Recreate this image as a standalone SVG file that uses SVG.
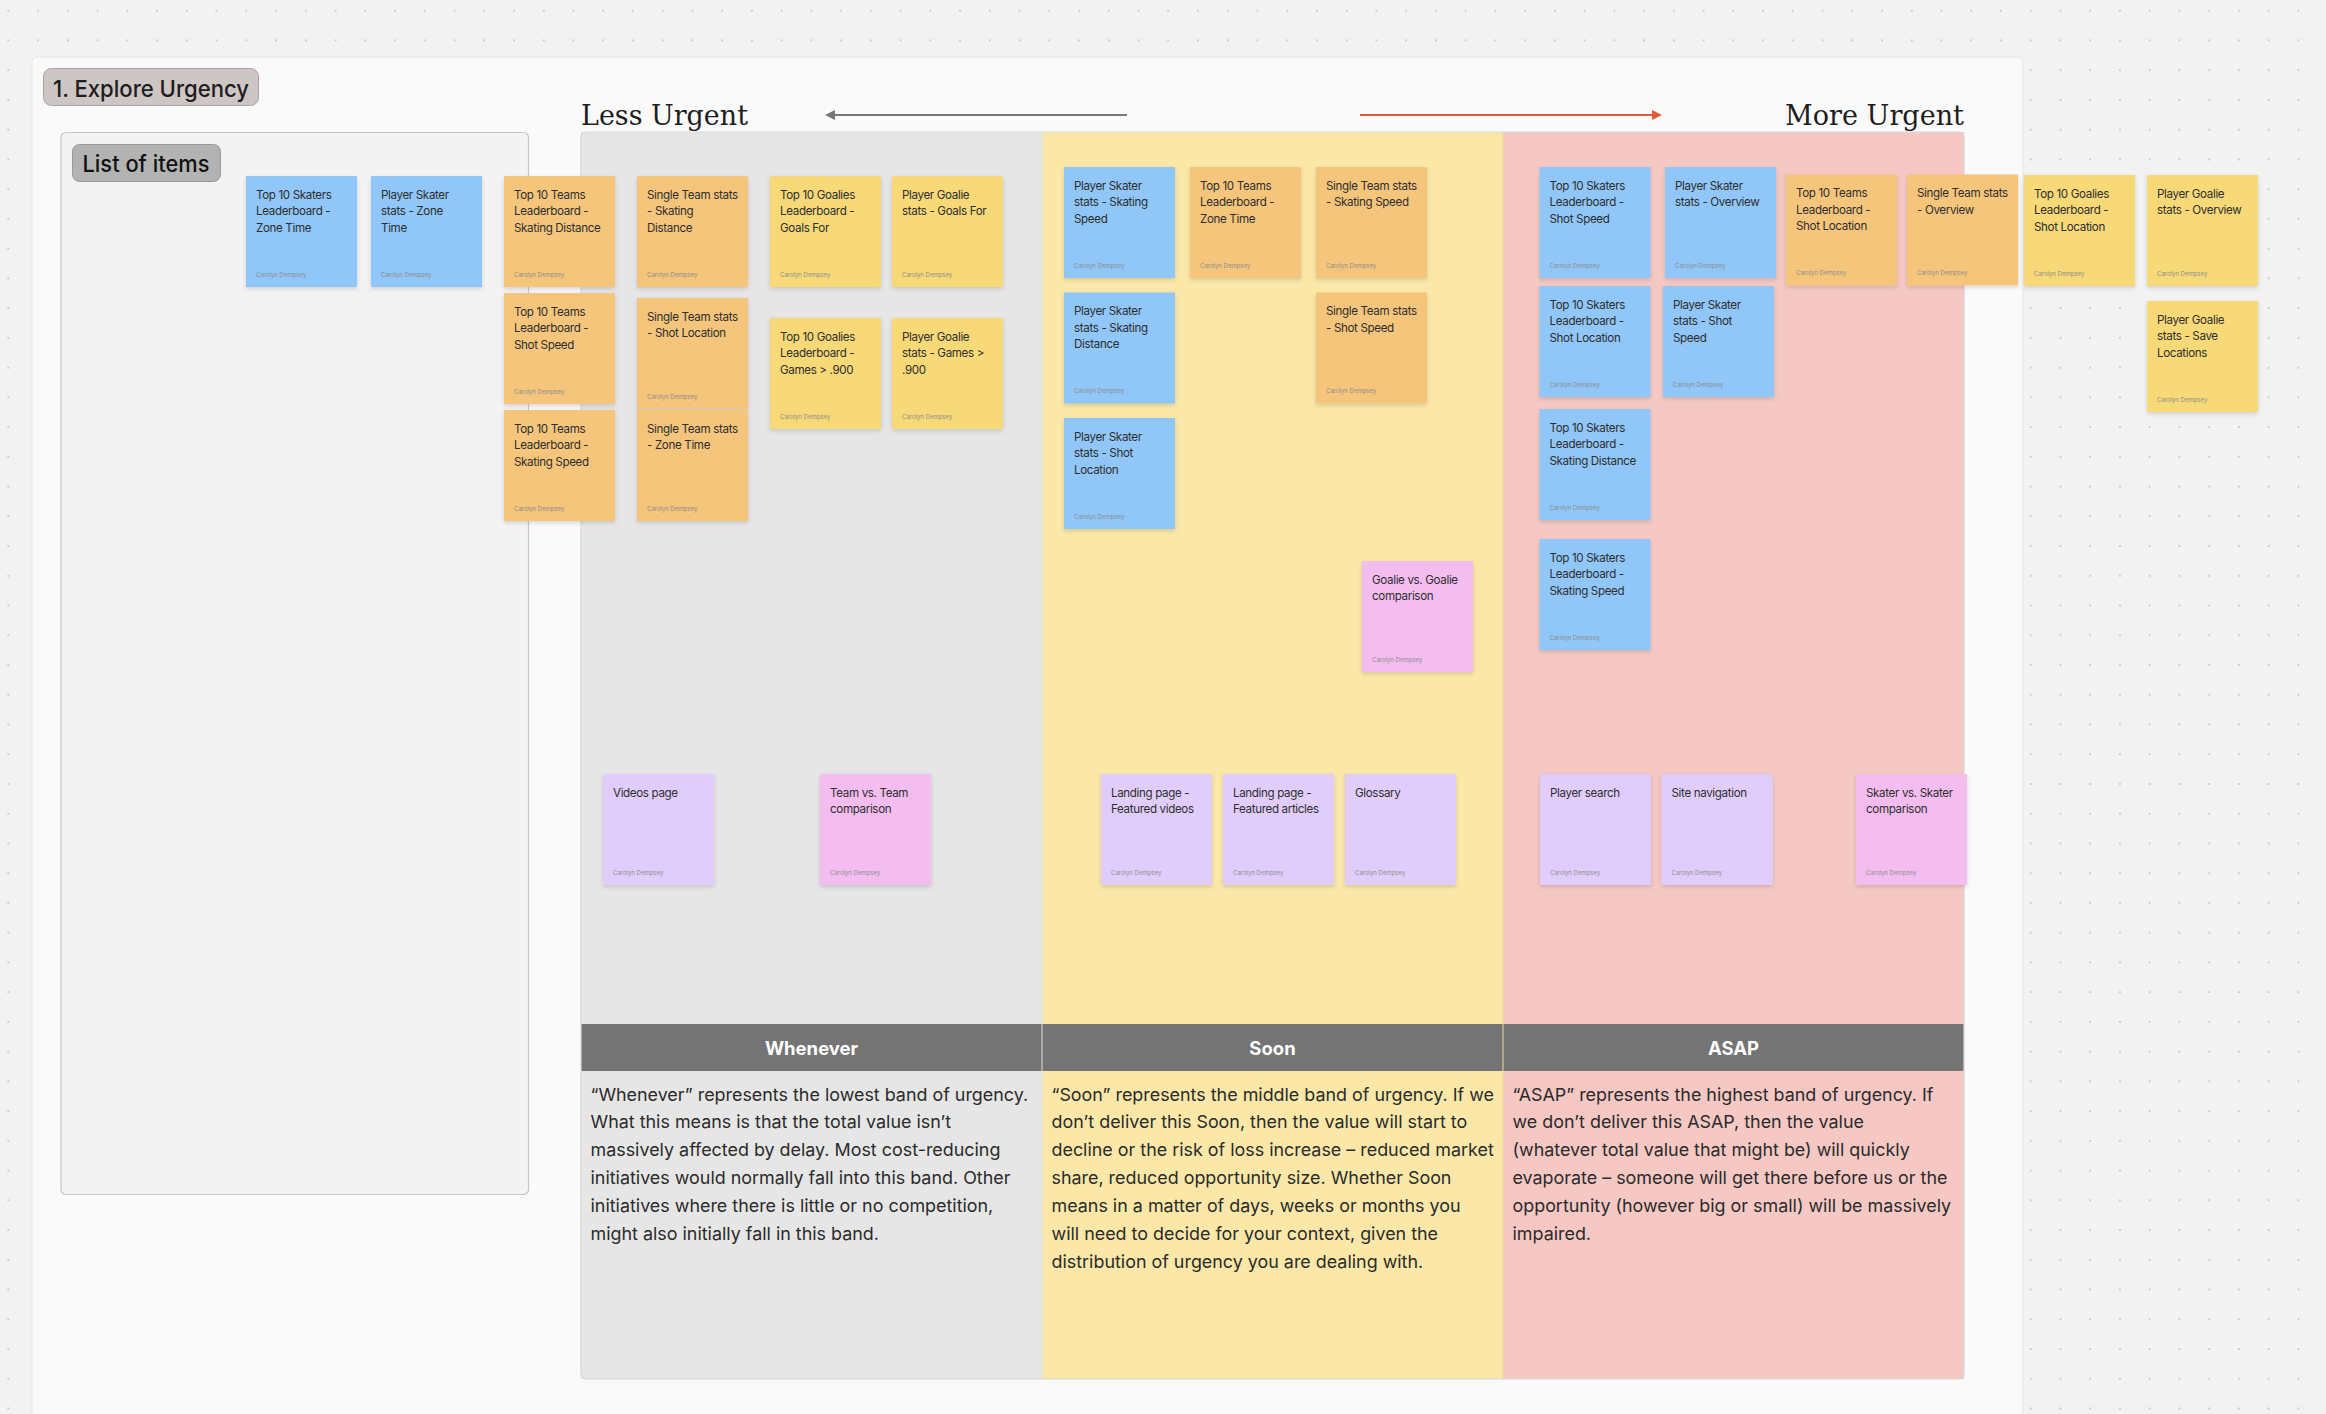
<svg xmlns="http://www.w3.org/2000/svg" width="2326" height="1414" viewBox="0 0 2326 1414">
<defs>
<pattern id="dots" patternUnits="userSpaceOnUse" x="-6.47" y="-4.17" width="29.74" height="29.74">
<circle cx="14.87" cy="14.87" r="1.1" fill="#c4c4c4"/>
</pattern>
<filter id="sh" x="-10%" y="-10%" width="120%" height="125%">
<feDropShadow dx="0" dy="2" stdDeviation="2" flood-color="#000" flood-opacity="0.14"/>
</filter>
<marker id="hg" viewBox="0 0 10 10" refX="1" refY="5" markerWidth="5" markerHeight="5" orient="auto-start-reverse" markerUnits="strokeWidth">
<path d="M0,0 L10,5 L0,10 z" fill="#777777"/>
</marker>
<marker id="hr" viewBox="0 0 10 10" refX="1" refY="5" markerWidth="5" markerHeight="5" orient="auto" markerUnits="strokeWidth">
<path d="M0,0 L10,5 L0,10 z" fill="#e2583b"/>
</marker>
</defs>
<style>
text{font-family:Inter,"Noto Sans","Liberation Sans",sans-serif}
.s{filter:url(#sh)}
.blue{fill:#90c6f8}
.orange{fill:#f5c57b}
.yellow{fill:#f7d978}
.pink{fill:#f4bdf0}
.lav{fill:#e0cdfb}
.t{font-size:11.6px;letter-spacing:-0.35px;fill:#2e2e2e}
.a{font-size:6px;fill:#8d8d8d}
.body{font-size:17.9px;fill:#2b2b2b}
.hd{font-size:18.5px;font-weight:700;fill:#ffffff}
.serif{font-family:"DejaVu Serif","Liberation Serif",serif;font-size:28px;fill:#1e1e1e}
</style>
<rect x="0" y="0" width="2326" height="1414" fill="#f2f2f2"/>
<rect x="0" y="0" width="2326" height="1414" fill="url(#dots)"/>
<rect x="32" y="57" width="1991" height="1400" rx="5" fill="#fafafa" stroke="#e6e6e6" stroke-width="1"/>

<g id="title">
<rect x="43.5" y="68.5" width="215" height="37" rx="8" fill="#cdc6c4" stroke="#a9a4a3" stroke-width="1"/>
<text x="53" y="96.5" font-size="23.5" font-weight="500" fill="#1e1e1e" textLength="196" lengthAdjust="spacingAndGlyphs">1. Explore Urgency</text>
</g>

<g id="list-panel">
<rect x="61" y="132.5" width="467.5" height="1062" rx="5" fill="#f3f3f3" stroke="#c6c6c6" stroke-width="1.2"/>
<rect x="72.5" y="144.5" width="148" height="37" rx="7" fill="#b3b3b3" stroke="#999999" stroke-width="1"/>
<text x="82.5" y="171.5" font-size="23" font-weight="500" fill="#111111" textLength="127" lengthAdjust="spacingAndGlyphs">List of items</text>
</g>

<g id="board">
<rect x="581" y="132" width="461" height="1247" fill="#e6e6e6"/>
<rect x="1042" y="132" width="461" height="1247" fill="#fbe8a8"/>
<rect x="1503" y="132" width="461" height="1247" fill="#f5c8c3"/>
<rect x="581" y="1024" width="1383" height="47" fill="#747474"/>
<line x1="1042" y1="132" x2="1042" y2="1379" stroke="#dedede" stroke-width="1"/>
<line x1="1503" y1="132" x2="1503" y2="1379" stroke="#ecd9a0" stroke-width="1"/>
<rect x="581" y="132" width="1383" height="1247" rx="5" fill="none" stroke="#d8d8d8" stroke-width="1.2"/>
<text class="hd" x="811.5" y="1054.5" text-anchor="middle">Whenever</text>
<text class="hd" x="1272.5" y="1054.5" text-anchor="middle">Soon</text>
<text class="hd" x="1733.5" y="1054.5" text-anchor="middle">ASAP</text>
<text class="body" x="590.5" y="1100.5">“Whenever” represents the lowest band of urgency.<tspan x="590.5" dy="27.9">What this means is that the total value isn’t</tspan><tspan x="590.5" dy="27.9">massively affected by delay. Most cost-reducing</tspan><tspan x="590.5" dy="27.9">initiatives would normally fall into this band. Other</tspan><tspan x="590.5" dy="27.9">initiatives where there is little or no competition,</tspan><tspan x="590.5" dy="27.9">might also initially fall in this band.</tspan></text>
<text class="body" x="1051.5" y="1100.5">“Soon” represents the middle band of urgency. If we<tspan x="1051.5" dy="27.9">don’t deliver this Soon, then the value will start to</tspan><tspan x="1051.5" dy="27.9">decline or the risk of loss increase – reduced market</tspan><tspan x="1051.5" dy="27.9">share, reduced opportunity size. Whether Soon</tspan><tspan x="1051.5" dy="27.9">means in a matter of days, weeks or months you</tspan><tspan x="1051.5" dy="27.9">will need to decide for your context, given the</tspan><tspan x="1051.5" dy="27.9">distribution of urgency you are dealing with.</tspan></text>
<text class="body" x="1512.5" y="1100.5">“ASAP” represents the highest band of urgency. If<tspan x="1512.5" dy="27.9">we don’t deliver this ASAP, then the value</tspan><tspan x="1512.5" dy="27.9">(whatever total value that might be) will quickly</tspan><tspan x="1512.5" dy="27.9">evaporate – someone will get there before us or the</tspan><tspan x="1512.5" dy="27.9">opportunity (however big or small) will be massively</tspan><tspan x="1512.5" dy="27.9">impaired.</tspan></text>
<text class="serif" x="581" y="125" textLength="167" lengthAdjust="spacingAndGlyphs">Less Urgent</text>
<text class="serif" x="1785" y="125" textLength="179" lengthAdjust="spacingAndGlyphs">More Urgent</text>
</g>

<g id="connectors">
<line x1="1127" y1="115" x2="834" y2="115" stroke="#777777" stroke-width="2" marker-end="url(#hg)"/>
<line x1="1360" y1="115" x2="1653" y2="115" stroke="#e2583b" stroke-width="2" marker-end="url(#hr)"/>
</g>

<g id="n1" transform="translate(246,176)"><rect class="s blue" width="111" height="111"/><text class="t" x="10" y="22.5">Top 10 Skaters<tspan x="10" dy="16.7">Leaderboard -</tspan><tspan x="10" dy="16.7">Zone Time</tspan></text><text class="a" x="10" y="100.5">Carolyn Dempsey</text></g>
<g id="n2" transform="translate(371,176)"><rect class="s blue" width="111" height="111"/><text class="t" x="10" y="22.5">Player Skater<tspan x="10" dy="16.7">stats - Zone</tspan><tspan x="10" dy="16.7">Time</tspan></text><text class="a" x="10" y="100.5">Carolyn Dempsey</text></g>
<g id="n3" transform="translate(504,176)"><rect class="s orange" width="111" height="111"/><text class="t" x="10" y="22.5">Top 10 Teams<tspan x="10" dy="16.7">Leaderboard -</tspan><tspan x="10" dy="16.7">Skating Distance</tspan></text><text class="a" x="10" y="100.5">Carolyn Dempsey</text></g>
<g id="n4" transform="translate(637,176)"><rect class="s orange" width="111" height="111"/><text class="t" x="10" y="22.5">Single Team stats<tspan x="10" dy="16.7">- Skating</tspan><tspan x="10" dy="16.7">Distance</tspan></text><text class="a" x="10" y="100.5">Carolyn Dempsey</text></g>
<g id="n5" transform="translate(770,176)"><rect class="s yellow" width="111" height="111"/><text class="t" x="10" y="22.5">Top 10 Goalies<tspan x="10" dy="16.7">Leaderboard -</tspan><tspan x="10" dy="16.7">Goals For</tspan></text><text class="a" x="10" y="100.5">Carolyn Dempsey</text></g>
<g id="n6" transform="translate(892,176)"><rect class="s yellow" width="111" height="111"/><text class="t" x="10" y="22.5">Player Goalie<tspan x="10" dy="16.7">stats - Goals For</tspan></text><text class="a" x="10" y="100.5">Carolyn Dempsey</text></g>
<g id="n7" transform="translate(504,293)"><rect class="s orange" width="111" height="111"/><text class="t" x="10" y="22.5">Top 10 Teams<tspan x="10" dy="16.7">Leaderboard -</tspan><tspan x="10" dy="16.7">Shot Speed</tspan></text><text class="a" x="10" y="100.5">Carolyn Dempsey</text></g>
<g id="n8" transform="translate(637,298)"><rect class="s orange" width="111" height="111"/><text class="t" x="10" y="22.5">Single Team stats<tspan x="10" dy="16.7">- Shot Location</tspan></text><text class="a" x="10" y="100.5">Carolyn Dempsey</text></g>
<g id="n9" transform="translate(770,318)"><rect class="s yellow" width="111" height="111"/><text class="t" x="10" y="22.5">Top 10 Goalies<tspan x="10" dy="16.7">Leaderboard -</tspan><tspan x="10" dy="16.7">Games &gt; .900</tspan></text><text class="a" x="10" y="100.5">Carolyn Dempsey</text></g>
<g id="n10" transform="translate(892,318)"><rect class="s yellow" width="111" height="111"/><text class="t" x="10" y="22.5">Player Goalie<tspan x="10" dy="16.7">stats - Games &gt;</tspan><tspan x="10" dy="16.7">.900</tspan></text><text class="a" x="10" y="100.5">Carolyn Dempsey</text></g>
<g id="n11" transform="translate(504,410)"><rect class="s orange" width="111" height="111"/><text class="t" x="10" y="22.5">Top 10 Teams<tspan x="10" dy="16.7">Leaderboard -</tspan><tspan x="10" dy="16.7">Skating Speed</tspan></text><text class="a" x="10" y="100.5">Carolyn Dempsey</text></g>
<g id="n12" transform="translate(637,410)"><rect class="s orange" width="111" height="111"/><text class="t" x="10" y="22.5">Single Team stats<tspan x="10" dy="16.7">- Zone Time</tspan></text><text class="a" x="10" y="100.5">Carolyn Dempsey</text></g>

<g id="n13" transform="translate(1064,167)"><rect class="s blue" width="111" height="111"/><text class="t" x="10" y="22.5">Player Skater<tspan x="10" dy="16.7">stats - Skating</tspan><tspan x="10" dy="16.7">Speed</tspan></text><text class="a" x="10" y="100.5">Carolyn Dempsey</text></g>
<g id="n14" transform="translate(1190,167)"><rect class="s orange" width="111" height="111"/><text class="t" x="10" y="22.5">Top 10 Teams<tspan x="10" dy="16.7">Leaderboard -</tspan><tspan x="10" dy="16.7">Zone Time</tspan></text><text class="a" x="10" y="100.5">Carolyn Dempsey</text></g>
<g id="n15" transform="translate(1316,167)"><rect class="s orange" width="111" height="111"/><text class="t" x="10" y="22.5">Single Team stats<tspan x="10" dy="16.7">- Skating Speed</tspan></text><text class="a" x="10" y="100.5">Carolyn Dempsey</text></g>
<g id="n16" transform="translate(1064,292.5)"><rect class="s blue" width="111" height="111"/><text class="t" x="10" y="22.5">Player Skater<tspan x="10" dy="16.7">stats - Skating</tspan><tspan x="10" dy="16.7">Distance</tspan></text><text class="a" x="10" y="100.5">Carolyn Dempsey</text></g>
<g id="n17" transform="translate(1316,292.5)"><rect class="s orange" width="111" height="111"/><text class="t" x="10" y="22.5">Single Team stats<tspan x="10" dy="16.7">- Shot Speed</tspan></text><text class="a" x="10" y="100.5">Carolyn Dempsey</text></g>
<g id="n18" transform="translate(1064,418)"><rect class="s blue" width="111" height="111"/><text class="t" x="10" y="22.5">Player Skater<tspan x="10" dy="16.7">stats - Shot</tspan><tspan x="10" dy="16.7">Location</tspan></text><text class="a" x="10" y="100.5">Carolyn Dempsey</text></g>
<g id="n19" transform="translate(1362,561)"><rect class="s pink" width="111" height="111"/><text class="t" x="10" y="22.5">Goalie vs. Goalie<tspan x="10" dy="16.7">comparison</tspan></text><text class="a" x="10" y="100.5">Carolyn Dempsey</text></g>

<g id="n20" transform="translate(1539.5,167)"><rect class="s blue" width="111" height="111"/><text class="t" x="10" y="22.5">Top 10 Skaters<tspan x="10" dy="16.7">Leaderboard -</tspan><tspan x="10" dy="16.7">Shot Speed</tspan></text><text class="a" x="10" y="100.5">Carolyn Dempsey</text></g>
<g id="n21" transform="translate(1665,167)"><rect class="s blue" width="111" height="111"/><text class="t" x="10" y="22.5">Player Skater<tspan x="10" dy="16.7">stats - Overview</tspan></text><text class="a" x="10" y="100.5">Carolyn Dempsey</text></g>
<g id="n22" transform="translate(1786,174.5)"><rect class="s orange" width="111" height="111"/><text class="t" x="10" y="22.5">Top 10 Teams<tspan x="10" dy="16.7">Leaderboard -</tspan><tspan x="10" dy="16.7">Shot Location</tspan></text><text class="a" x="10" y="100.5">Carolyn Dempsey</text></g>
<g id="n23" transform="translate(1907,174.5)"><rect class="s orange" width="111" height="111"/><text class="t" x="10" y="22.5">Single Team stats<tspan x="10" dy="16.7">- Overview</tspan></text><text class="a" x="10" y="100.5">Carolyn Dempsey</text></g>
<g id="n24" transform="translate(2024,175)"><rect class="s yellow" width="111" height="111"/><text class="t" x="10" y="22.5">Top 10 Goalies<tspan x="10" dy="16.7">Leaderboard -</tspan><tspan x="10" dy="16.7">Shot Location</tspan></text><text class="a" x="10" y="100.5">Carolyn Dempsey</text></g>
<g id="n25" transform="translate(2147,175)"><rect class="s yellow" width="111" height="111"/><text class="t" x="10" y="22.5">Player Goalie<tspan x="10" dy="16.7">stats - Overview</tspan></text><text class="a" x="10" y="100.5">Carolyn Dempsey</text></g>
<g id="n26" transform="translate(2147,301)"><rect class="s yellow" width="111" height="111"/><text class="t" x="10" y="22.5">Player Goalie<tspan x="10" dy="16.7">stats - Save</tspan><tspan x="10" dy="16.7">Locations</tspan></text><text class="a" x="10" y="100.5">Carolyn Dempsey</text></g>
<g id="n27" transform="translate(1539.5,286)"><rect class="s blue" width="111" height="111"/><text class="t" x="10" y="22.5">Top 10 Skaters<tspan x="10" dy="16.7">Leaderboard -</tspan><tspan x="10" dy="16.7">Shot Location</tspan></text><text class="a" x="10" y="100.5">Carolyn Dempsey</text></g>
<g id="n28" transform="translate(1663,286)"><rect class="s blue" width="111" height="111"/><text class="t" x="10" y="22.5">Player Skater<tspan x="10" dy="16.7">stats - Shot</tspan><tspan x="10" dy="16.7">Speed</tspan></text><text class="a" x="10" y="100.5">Carolyn Dempsey</text></g>
<g id="n29" transform="translate(1539.5,409)"><rect class="s blue" width="111" height="111"/><text class="t" x="10" y="22.5">Top 10 Skaters<tspan x="10" dy="16.7">Leaderboard -</tspan><tspan x="10" dy="16.7">Skating Distance</tspan></text><text class="a" x="10" y="100.5">Carolyn Dempsey</text></g>
<g id="n30" transform="translate(1539.5,539)"><rect class="s blue" width="111" height="111"/><text class="t" x="10" y="22.5">Top 10 Skaters<tspan x="10" dy="16.7">Leaderboard -</tspan><tspan x="10" dy="16.7">Skating Speed</tspan></text><text class="a" x="10" y="100.5">Carolyn Dempsey</text></g>

<g id="n31" transform="translate(603,774)"><rect class="s lav" width="111" height="111"/><text class="t" x="10" y="22.5">Videos page</text><text class="a" x="10" y="100.5">Carolyn Dempsey</text></g>
<g id="n32" transform="translate(820,774)"><rect class="s pink" width="111" height="111"/><text class="t" x="10" y="22.5">Team vs. Team<tspan x="10" dy="16.7">comparison</tspan></text><text class="a" x="10" y="100.5">Carolyn Dempsey</text></g>
<g id="n33" transform="translate(1101,774)"><rect class="s lav" width="111" height="111"/><text class="t" x="10" y="22.5">Landing page -<tspan x="10" dy="16.7">Featured videos</tspan></text><text class="a" x="10" y="100.5">Carolyn Dempsey</text></g>
<g id="n34" transform="translate(1223,774)"><rect class="s lav" width="111" height="111"/><text class="t" x="10" y="22.5">Landing page -<tspan x="10" dy="16.7">Featured articles</tspan></text><text class="a" x="10" y="100.5">Carolyn Dempsey</text></g>
<g id="n35" transform="translate(1345,774)"><rect class="s lav" width="111" height="111"/><text class="t" x="10" y="22.5">Glossary</text><text class="a" x="10" y="100.5">Carolyn Dempsey</text></g>
<g id="n36" transform="translate(1540,774)"><rect class="s lav" width="111" height="111"/><text class="t" x="10" y="22.5">Player search</text><text class="a" x="10" y="100.5">Carolyn Dempsey</text></g>
<g id="n37" transform="translate(1661.5,774)"><rect class="s lav" width="111" height="111"/><text class="t" x="10" y="22.5">Site navigation</text><text class="a" x="10" y="100.5">Carolyn Dempsey</text></g>
<g id="n38" transform="translate(1856,774)"><rect class="s pink" width="111" height="111"/><text class="t" x="10" y="22.5">Skater vs. Skater<tspan x="10" dy="16.7">comparison</tspan></text><text class="a" x="10" y="100.5">Carolyn Dempsey</text></g>
</svg>
